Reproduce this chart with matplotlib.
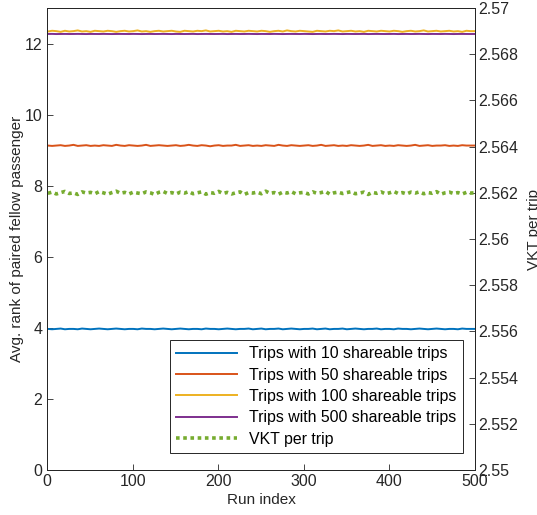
import matplotlib as mpl
mpl.use('Agg')
import matplotlib.pyplot as plt
import numpy as np

plt.rcParams['font.family'] = ['Liberation Sans', 'DejaVu Sans']
plt.rcParams['font.size'] = 11

# run index (sampled every ~5 runs)
runs = np.linspace(1, 500, 101)

# avg. rank of paired fellow passenger
rank_10 = [3.97, 3.96, 3.97, 3.98, 3.96, 3.97, 3.97, 3.96, 3.98, 3.97,
           3.96, 3.97, 3.98, 3.97, 3.96, 3.97, 3.98, 3.97, 3.96, 3.97,
           3.97, 3.96, 3.98, 3.97, 3.97, 3.96, 3.97, 3.98, 3.97, 3.96,
           3.97, 3.98, 3.97, 3.96, 3.97, 3.97, 3.96, 3.98, 3.97, 3.97,
           3.96, 3.97, 3.98, 3.97, 3.96, 3.97, 3.97, 3.98, 3.96, 3.97,
           3.98, 3.96, 3.97, 3.97, 3.98, 3.96, 3.97, 3.98, 3.97, 3.96,
           3.97, 3.97, 3.98, 3.96, 3.97, 3.98, 3.96, 3.97, 3.97, 3.98,
           3.96, 3.97, 3.98, 3.97, 3.96, 3.97, 3.97, 3.98, 3.96, 3.97,
           3.97, 3.96, 3.98, 3.97, 3.97, 3.96, 3.97, 3.98, 3.97, 3.96,
           3.97, 3.98, 3.97, 3.96, 3.97, 3.97, 3.96, 3.98, 3.97, 3.97, 3.97]
rank_50 = [9.13, 9.12, 9.13, 9.14, 9.12, 9.13, 9.15, 9.12, 9.13, 9.14,
           9.12, 9.13, 9.12, 9.14, 9.13, 9.12, 9.15, 9.13, 9.12, 9.14,
           9.13, 9.12, 9.13, 9.15, 9.12, 9.13, 9.14, 9.13, 9.12, 9.13,
           9.14, 9.12, 9.13, 9.15, 9.13, 9.12, 9.14, 9.13, 9.11, 9.13,
           9.14, 9.12, 9.13, 9.13, 9.15, 9.12, 9.13, 9.14, 9.12, 9.13,
           9.12, 9.14, 9.13, 9.12, 9.15, 9.13, 9.12, 9.14, 9.13, 9.12,
           9.13, 9.14, 9.12, 9.13, 9.15, 9.12, 9.13, 9.14, 9.12, 9.13,
           9.12, 9.14, 9.13, 9.12, 9.13, 9.15, 9.12, 9.13, 9.14, 9.12,
           9.13, 9.12, 9.14, 9.13, 9.12, 9.13, 9.15, 9.12, 9.13, 9.14,
           9.12, 9.13, 9.13, 9.14, 9.12, 9.13, 9.12, 9.14, 9.13, 9.13, 9.13]
rank_100 = [12.34, 12.36, 12.35, 12.33, 12.36, 12.34, 12.35, 12.37, 12.34, 12.35,
            12.33, 12.36, 12.35, 12.34, 12.36, 12.35, 12.33, 12.35, 12.36, 12.34,
            12.35, 12.37, 12.34, 12.35, 12.33, 12.35, 12.36, 12.34, 12.35, 12.36,
            12.34, 12.33, 12.36, 12.35, 12.34, 12.36, 12.35, 12.37, 12.34, 12.35,
            12.36, 12.34, 12.35, 12.33, 12.36, 12.35, 12.34, 12.36, 12.35, 12.34,
            12.36, 12.35, 12.33, 12.35, 12.36, 12.34, 12.37, 12.35, 12.34, 12.36,
            12.35, 12.34, 12.33, 12.36, 12.35, 12.34, 12.36, 12.35, 12.37, 12.34,
            12.35, 12.36, 12.34, 12.35, 12.33, 12.36, 12.35, 12.34, 12.36, 12.35,
            12.34, 12.36, 12.35, 12.33, 12.35, 12.36, 12.34, 12.35, 12.37, 12.34,
            12.35, 12.36, 12.34, 12.35, 12.36, 12.34, 12.35, 12.33, 12.36, 12.35, 12.35]
rank_500 = [12.27, 12.272, 12.268, 12.27, 12.271, 12.269, 12.27, 12.272, 12.27, 12.268,
            12.271, 12.27, 12.269, 12.272, 12.27, 12.268, 12.27, 12.271, 12.27, 12.269,
            12.272, 12.27, 12.268, 12.27, 12.271, 12.269, 12.27, 12.272, 12.27, 12.268,
            12.271, 12.27, 12.269, 12.27, 12.272, 12.268, 12.27, 12.271, 12.27, 12.269,
            12.27, 12.272, 12.268, 12.27, 12.271, 12.269, 12.27, 12.272, 12.27, 12.268,
            12.271, 12.27, 12.269, 12.272, 12.27, 12.268, 12.27, 12.271, 12.27, 12.269,
            12.272, 12.27, 12.268, 12.27, 12.271, 12.269, 12.27, 12.272, 12.27, 12.268,
            12.271, 12.27, 12.269, 12.27, 12.272, 12.268, 12.27, 12.271, 12.27, 12.269,
            12.27, 12.272, 12.268, 12.27, 12.271, 12.269, 12.27, 12.272, 12.27, 12.268,
            12.271, 12.27, 12.269, 12.272, 12.27, 12.268, 12.27, 12.271, 12.27, 12.269, 12.27]
# VKT per trip (right axis)
vkt = [2.56198, 2.56203, 2.56195, 2.56201, 2.56206, 2.56197, 2.56200, 2.56193, 2.56204, 2.56199,
       2.56202, 2.56196, 2.56205, 2.56200, 2.56194, 2.56201, 2.56207, 2.56198, 2.56202, 2.56195,
       2.56203, 2.56199, 2.56196, 2.56204, 2.56200, 2.56193, 2.56202, 2.56206, 2.56197, 2.56201,
       2.56195, 2.56203, 2.56199, 2.56205, 2.56196, 2.56200, 2.56204, 2.56194, 2.56201, 2.56198,
       2.56206, 2.56197, 2.56202, 2.56195, 2.56200, 2.56204, 2.56193, 2.56201, 2.56199, 2.56203,
       2.56196, 2.56207, 2.56198, 2.56201, 2.56194, 2.56203, 2.56199, 2.56205, 2.56196, 2.56200,
       2.56202, 2.56195, 2.56204, 2.56198, 2.56201, 2.56206, 2.56194, 2.56200, 2.56203, 2.56197,
       2.56201, 2.56205, 2.56196, 2.56199, 2.56203, 2.56193, 2.56202, 2.56198, 2.56204, 2.56196,
       2.56200, 2.56206, 2.56197, 2.56201, 2.56195, 2.56203, 2.56199, 2.56204, 2.56196, 2.56201,
       2.56198, 2.56205, 2.56194, 2.56200, 2.56203, 2.56197, 2.56201, 2.56195, 2.56202, 2.56199, 2.56200]

labels = ['Trips with 10 shareable trips', 'Trips with 50 shareable trips',
          'Trips with 100 shareable trips', 'Trips with 500 shareable trips']
colors = ['#0072BD', '#D95319', '#EDB120', '#7E2F8E']
vkt_color = '#77AC30'
axcol = '#262626'

fig = plt.figure(figsize=(5.37, 5.15), dpi=100)
ax = fig.add_axes([0.0875, 0.0874, 0.797, 0.897])

handles = []
for y, lab, c in zip([rank_10, rank_50, rank_100, rank_500], labels, colors):
    h, = ax.plot(runs, y, '-', color=c, lw=1.4, label=lab)
    handles.append(h)

ax.set_xlim(0, 500)
ax.set_ylim(0, 13)
ax.set_xticks(np.arange(0, 501, 100))
ax.set_yticks(np.arange(0, 13, 2))
ax.set_xlabel('Run index', labelpad=3, color=axcol)
ax.set_ylabel('Avg. rank of paired fellow passenger', labelpad=0, color=axcol)
ax.tick_params(direction='in', length=4, width=0.6, colors=axcol, labelsize=11.5)
ax.tick_params(axis='x', pad=3)
for s in ax.spines.values():
    s.set_color(axcol)
    s.set_linewidth(0.7)

ax2 = ax.twinx()
h, = ax2.plot(runs, vkt, color=vkt_color, lw=2.6, linestyle=(0, (1, 1)), label='VKT per trip')
handles.append(h)
ax2.set_ylim(2.55, 2.57)
ax2.set_yticks(np.arange(2.55, 2.5701, 0.002))
ax2.yaxis.set_major_formatter(mpl.ticker.FuncFormatter(lambda v, p: '%g' % round(v, 3)))
ax2.tick_params(direction='in', length=4, width=0.6, colors=axcol, labelsize=11.5, pad=2)
for s in ax2.spines.values():
    s.set_color(axcol)
    s.set_linewidth(0.7)
ax2.set_ylabel('VKT per trip', color=axcol)
ax2.yaxis.set_label_coords(1.121, 0.52)

leg = ax2.legend(handles=handles, loc='lower right', bbox_to_anchor=(0.972, 0.037),
                 borderaxespad=0, fancybox=False, framealpha=1, edgecolor=axcol,
                 handlelength=3.8, labelspacing=0.4, fontsize=11.4)
leg.get_frame().set_linewidth(0.7)

plt.savefig('out.png', dpi=100)
